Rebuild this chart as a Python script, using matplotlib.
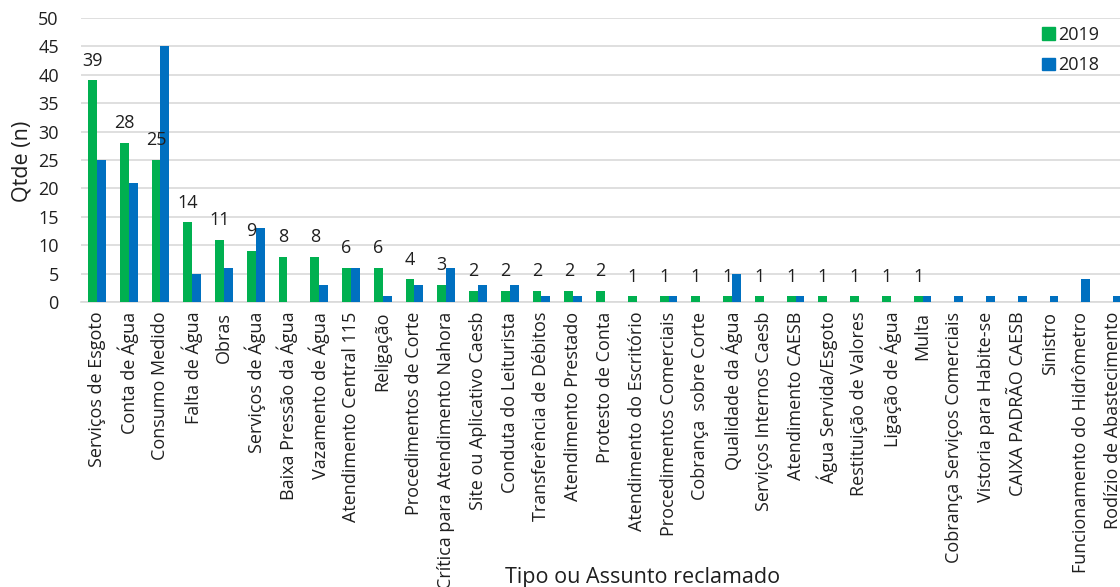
import matplotlib
matplotlib.use("Agg")
import matplotlib.pyplot as plt
from matplotlib.patches import Patch

plt.rcParams['font.family'] = ['Open Sans', 'DejaVu Sans']

categories = [
    "Serviços de Esgoto", "Conta de Água", "Consumo Medido", "Falta de Água",
    "Obras", "Serviços de Água", "Baixa Pressão da Água", "Vazamento de Água",
    "Atendimento Central 115", "Religação", "Procedimentos de Corte",
    "Crítica para Atendimento Nahora", "Site ou Aplicativo Caesb",
    "Conduta do Leiturista", "Transferência de Débitos", "Atendimento Prestado",
    "Protesto de Conta", "Atendimento do Escritório", "Procedimentos Comerciais",
    "Cobrança  sobre Corte", "Qualidade da Água", "Serviços Internos Caesb",
    "Atendimento CAESB", "Água Servida/Esgoto", "Restituição de Valores",
    "Ligação de Água", "Multa", "Cobrança Serviços Comerciais",
    "Vistoria para Habite-se", "CAIXA PADRÃO CAESB", "Sinistro",
    "Funcionamento do Hidrômetro", "Rodízio de Abastecimento",
]
values_2019 = [39, 28, 25, 14, 11, 9, 8, 8, 6, 6, 4, 3, 2, 2, 2, 2, 2,
               1, 1, 1, 1, 1, 1, 1, 1, 1, 1, 0, 0, 0, 0, 0, 0]
values_2018 = [25, 21, 45, 5, 6, 13, 0, 3, 6, 1, 3, 6, 3, 3, 1, 1, 0,
               0, 1, 0, 5, 0, 1, 0, 0, 0, 1, 1, 1, 1, 1, 4, 1]
yticks = list(range(0, 51, 5))

GREEN = "#00B050"
BLUE = "#0070C0"
GRID = "#D9D9D9"
TEXT = "#1F1F1F"

W, H = 1120, 587
fig = plt.figure(figsize=(W / 100, H / 100), dpi=100)
ax = fig.add_axes([81 / W, 1 - 302 / H, 1048 / W, 284 / H])

x = list(range(len(categories)))
bw = 0.28
ax.bar([i - bw / 2 for i in x], values_2019, width=bw, color=GREEN, zorder=3)
ax.bar([i + bw / 2 for i in x], values_2018, width=bw, color=BLUE, zorder=3)

for i, v in zip(x, values_2019):
    if v > 0:
        ax.annotate(str(v), (i - bw / 2, v), xytext=(0, 10.5),
                    textcoords="offset points", ha="center", va="baseline",
                    fontsize=13, color=TEXT, zorder=4)

ax.set_xlim(-0.5, len(categories) - 0.5)
ax.set_ylim(0, 50)
ax.set_yticks(yticks)
ax.set_yticklabels([str(t) for t in yticks], fontsize=13, color=TEXT)
ax.set_xticks(x)
ax.set_xticklabels(categories, rotation=90, fontsize=13, color=TEXT,
                   ha="center", va="top")
ax.tick_params(axis="y", length=0, pad=16)
ax.tick_params(axis="x", length=0, pad=7)

ax.grid(axis="y", color=GRID, linewidth=1.2, zorder=0)
for s in ("top", "right", "left"):
    ax.spines[s].set_visible(False)
ax.spines["bottom"].set_color(GRID)
ax.spines["bottom"].set_linewidth(1.2)
ax.spines["bottom"].set_zorder(2)

fig.text(22 / W, 1 - 161 / H, "Qtde (n)", rotation=90, ha="center",
         va="center", fontsize=15.5, color=TEXT)
fig.text(643 / W, 1 - 578 / H, "Tipo ou Assunto reclamado", ha="center",
         va="center", fontsize=15.5, color=TEXT)

handles = [Patch(color=GREEN, label="2019"), Patch(color=BLUE, label="2018")]
fig.legend(handles=handles, loc="upper left",
           bbox_to_anchor=(1042 / W, 1 - 26 / H), frameon=False,
           fontsize=13, handlelength=0.72, handleheight=0.68,
           handletextpad=0.15, labelspacing=0.68, borderpad=0,
           borderaxespad=0, labelcolor=TEXT)

fig.savefig("out.png", dpi=100)
